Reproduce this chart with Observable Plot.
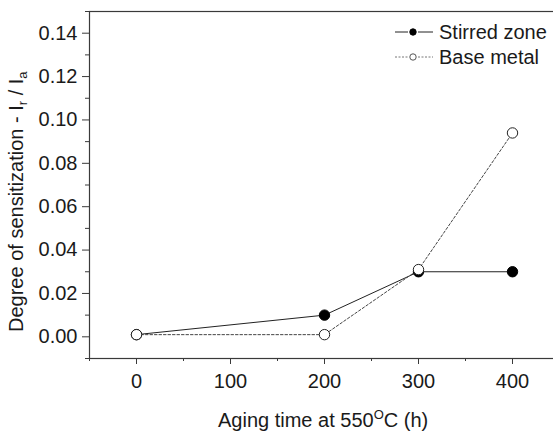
<!DOCTYPE html>
<html>
<head>
<meta charset="utf-8">
<script src="https://cdn.jsdelivr.net/npm/d3@7"></script>
<script src="https://cdn.jsdelivr.net/npm/@observablehq/plot@0.6"></script>
<style>
  html, body { margin: 0; padding: 0; background: #fff; }
  #chart svg { display: block; }
</style>
</head>
<body>
<div id="chart"></div>
<script>
// Data
const agingTime = [0, 200, 300, 400];
const stirredZone = [0.001, 0.010, 0.030, 0.030];
const baseMetal = [0.001, 0.001, 0.031, 0.094];
const seriesNames = ["Stirred zone", "Base metal"];

const xTicks = [0, 100, 200, 300, 400];
const xMinorTicks = [-50, 50, 150, 250, 350];
const yTicks = [0, 0.02, 0.04, 0.06, 0.08, 0.10, 0.12, 0.14];
const yMinorTicks = [-0.01, 0.01, 0.03, 0.05, 0.07, 0.09, 0.11, 0.13, 0.15];

const stirredRows = agingTime.map((t, i) => ({t, v: stirredZone[i]}));
const baseRows = agingTime.map((t, i) => ({t, v: baseMetal[i]}));

const font = "'Liberation Sans', Arial, sans-serif";
const axisColor = "#3a3a3a";
const fs = 20;

const chart = Plot.plot({
  width: 553,
  height: 431,
  marginLeft: 89,
  marginRight: -6,
  marginTop: 11,
  marginBottom: 73,
  style: {fontFamily: font, fontSize: fs + "px", color: "#1a1a1a", background: "#fff"},
  x: {domain: [-50, 450]},
  y: {domain: [-0.01, 0.15]},
  marks: [
    Plot.axisX({ticks: xTicks, tickSize: 6, tickPadding: 9, label: null, stroke: axisColor, fontSize: fs}),
    Plot.axisX({ticks: xMinorTicks, tickSize: 3, text: null, label: null, stroke: axisColor}),
    Plot.axisY({ticks: yTicks, tickSize: 7, tickPadding: 5, tickFormat: d3.format(".2f"), label: null, stroke: axisColor, fontSize: fs}),
    Plot.axisY({ticks: yMinorTicks, tickSize: 4, text: null, label: null, stroke: axisColor}),
    Plot.frame({stroke: axisColor, strokeWidth: 1.2}),
    Plot.line(stirredRows, {x: "t", y: "v", stroke: "#222", strokeWidth: 1}),
    Plot.line(baseRows, {x: "t", y: "v", stroke: "#444", strokeWidth: 1, strokeDasharray: "2.5,2"}),
    Plot.dot(stirredRows, {x: "t", y: "v", r: 5.2, fill: "#000", stroke: "#000", strokeWidth: 1}),
    Plot.dot(baseRows, {x: "t", y: "v", r: 5.2, fill: "#fff", stroke: "#222", strokeWidth: 1})
  ]
});

document.getElementById("chart").appendChild(chart);

const svg = d3.select(chart);

// Y axis label with subscripts
const yl = svg.append("text")
  .attr("transform", "translate(23,332) rotate(-90)")
  .attr("text-anchor", "start")
  .attr("font-family", font)
  .attr("font-size", fs)
  .attr("fill", "#1a1a1a");
yl.append("tspan").text("Degree of sensitization - I");
yl.append("tspan").attr("font-size", 13).attr("dy", 4).text("r");
yl.append("tspan").attr("dy", -4).text(" / I");
yl.append("tspan").attr("font-size", 13).attr("dy", 4).text("a");

// X axis label with superscript
const xl = svg.append("text")
  .attr("x", 218).attr("y", 426.5)
  .attr("text-anchor", "start")
  .attr("font-family", font)
  .attr("font-size", fs)
  .attr("fill", "#1a1a1a");
xl.append("tspan").text("Aging time at 550");
xl.append("tspan").attr("font-size", 13).attr("dy", -8).text("O");
xl.append("tspan").attr("dy", 8).text("C (h)");

// Legend
const leg = svg.append("g");
const items = [
  {name: seriesNames[0], y: 32, dash: null, fill: "#000", stroke: "#222", dot: "#000"},
  {name: seriesNames[1], y: 57, dash: "2,1.5", fill: "#fff", stroke: "#777", dot: "#555"}
];
items.forEach(it => {
  [[395, 408], [418, 433]].forEach(([a, b]) => {
    leg.append("line").attr("x1", a).attr("x2", b).attr("y1", it.y).attr("y2", it.y)
      .attr("stroke", it.stroke).attr("stroke-width", 1)
      .attr("stroke-dasharray", it.dash);
  });
  leg.append("circle").attr("cx", 413).attr("cy", it.y).attr("r", 3.2)
    .attr("fill", it.fill).attr("stroke", it.dot);
  leg.append("text").attr("x", 439).attr("y", it.y + 7)
    .attr("text-anchor", "start")
    .attr("font-family", font).attr("font-size", fs).attr("fill", "#1a1a1a")
    .text(it.name);
});
</script>
</body>
</html>
